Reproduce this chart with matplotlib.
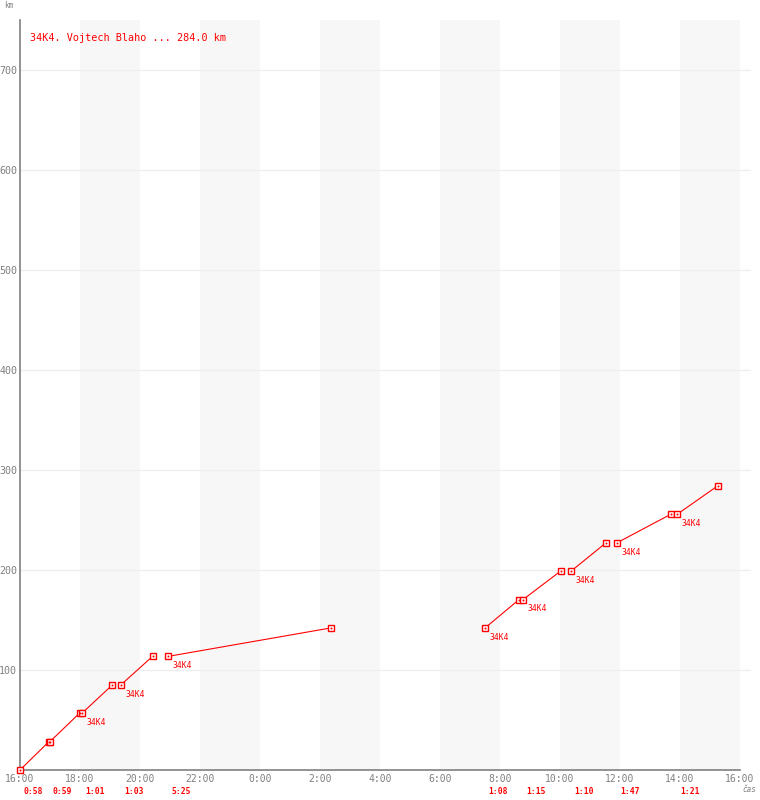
import matplotlib
matplotlib.use("Agg")
import matplotlib.pyplot as plt

# ---- data ----
lap_start = ["16:00", "17:00", "18:04", "19:22", "20:56", "7:30", "8:46", "10:22", "11:54", "13:54"]
lap_end = ["16:58", "17:59", "19:05", "20:25", "2:21", "8:38", "10:01", "11:32", "13:41", "15:15"]
lap_start_km = [0.0, 28.4, 56.8, 85.2, 113.6, 142.0, 170.4, 198.8, 227.2, 255.6]
lap_end_km = [28.4, 56.8, 85.2, 113.6, 142.0, 170.4, 198.8, 227.2, 255.6, 284.0]
lap_duration = ["0:58", "0:59", "1:01", "1:03", "5:25", "1:08", "1:15", "1:10", "1:47", "1:21"]
start_labels = ["", "", "34K4", "34K4", "34K4", "34K4", "34K4", "34K4", "34K4", "34K4"]
x_tick_labels = ["16:00", "18:00", "20:00", "22:00", "0:00", "2:00", "4:00", "6:00",
                 "8:00", "10:00", "12:00", "14:00", "16:00"]
y_ticks = [100, 200, 300, 400, 500, 600, 700]
title = "34K4. Vojtech Blaho ... 284.0 km"

RED = "#ff0000"
GRAY = "#808080"


def hours_since_start(s):
    h, m = s.split(":")
    v = int(h) + int(m) / 60.0 - 16.0
    if v < 0:
        v += 24.0
    return v


W, H = 760, 800
fig = plt.figure(figsize=(W / 100, H / 100), dpi=100)
x_right_px = 751
ax = fig.add_axes([20 / W, 30 / H, (x_right_px - 20) / W, 750 / H])
xmax = (x_right_px - 20) / 30.0
ax.set_xlim(0, xmax)
ax.set_ylim(0, 750)

# background bands
for k in range(6):
    a = 2 + 4 * k
    ax.axvspan(a, a + 2, color="#f7f7f7", lw=0, zorder=0)
# grid
for y in y_ticks:
    ax.axhline(y, color="#eeeeee", lw=0.9, zorder=1)

# spines
for s in ["top", "right"]:
    ax.spines[s].set_visible(False)
ax.spines["left"].set_color(GRAY)
ax.spines["bottom"].set_color(GRAY)
ax.spines["left"].set_linewidth(1.2)
ax.spines["bottom"].set_linewidth(1.2)
ax.spines["bottom"].set_bounds(0, 24)

ax.set_xticks(range(0, 25, 2))
ax.set_xticklabels(x_tick_labels, family="DejaVu Sans Mono", fontsize=7.0, color=GRAY)
ax.set_yticks(y_ticks)
ax.set_yticklabels([str(v) for v in y_ticks], family="DejaVu Sans Mono", fontsize=7.2, color=GRAY)
ax.tick_params(length=0, pad=2)
ax.tick_params(axis="x", pad=3)

# laps
for i in range(len(lap_start)):
    x0 = hours_since_start(lap_start[i])
    x1 = hours_since_start(lap_end[i])
    ax.plot([x0, x1], [lap_start_km[i], lap_end_km[i]], color=RED, lw=0.8, zorder=3,
            solid_capstyle="butt")
    ax.plot([x0, x1], [lap_start_km[i], lap_end_km[i]], ls="none", marker="s", ms=4.6,
            mfc="white", mec=RED, mew=1.0, zorder=4, clip_on=False)
    ax.plot([x0, x1], [lap_start_km[i], lap_end_km[i]], ls="none", marker="s", ms=0.9,
            mfc=RED, mec=RED, mew=0.3, zorder=5, clip_on=False)
    if start_labels[i]:
        ax.annotate(start_labels[i], (x0, lap_start_km[i]), xytext=(3, -3.5),
                    textcoords="offset points", ha="left", va="top",
                    family="DejaVu Sans Mono", fontsize=5.8, color=RED, zorder=6)
    # duration at bottom
    fig.text((20 + x0 * 30 + 3) / W, 1 - 792 / H, lap_duration[i], ha="left", va="center",
             family="DejaVu Sans Mono", fontsize=5.8, fontweight="bold", color=RED)

# title
fig.text(30 / W, 1 - 38 / H, title, ha="left", va="center",
         family="DejaVu Sans Mono", fontsize=7.3, color=RED)
# axis labels
fig.text(4 / W, 1 - 6 / H, "km", ha="left", va="center",
         family="DejaVu Sans Mono", fontsize=5.5, color=GRAY)
fig.text(742 / W, 1 - 790 / H, "čas", ha="left", va="center",
         family="DejaVu Sans Mono", fontsize=5.5, style="italic", color=GRAY)

fig.savefig("out.png", dpi=100)
